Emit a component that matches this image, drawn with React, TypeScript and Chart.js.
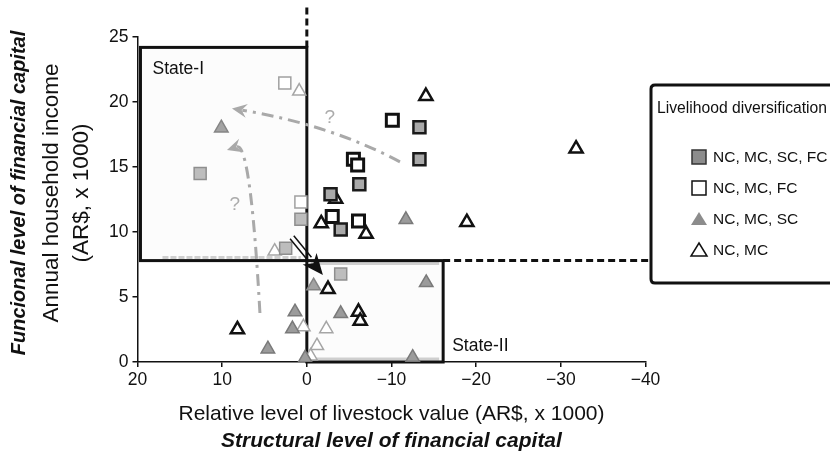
import React, { useEffect, useRef } from 'react';
import { Chart, registerables } from 'chart.js';

Chart.register(...registerables);

// ---------- data ----------
const X_MIN = -40;
const X_MAX = 20;
const X_STEP = 10;
const Y_MIN = 0;
const Y_MAX = 25;
const Y_STEP = 5;

const LEGEND_TITLE = 'Livelihood diversification';
const LEGEND_LABELS = ['NC, MC, SC, FC', 'NC, MC, FC', 'NC, MC, SC', 'NC, MC'];

const X_TITLE = 'Relative level of livestock value (AR$, x 1000)';
const X_SUBTITLE = 'Structural level of financial capital';
const Y_TITLE_1 = 'Annual household income';
const Y_TITLE_2 = '(AR$, x 1000)';
const Y_SUBTITLE = 'Funcional level of financial capital';

// NC, MC, SC, FC (gray squares)
const GRAY_SQUARES = [
  { x: -13.3, y: 18.05 },
  { x: -13.3, y: 15.6 },
  { x: -6.2, y: 13.67 },
  { x: -2.8, y: 12.9 },
  { x: -4.0, y: 10.2 },
];
// NC, MC, FC (white squares)
const WHITE_SQUARES = [
  { x: -10.1, y: 18.6 },
  { x: -5.5, y: 15.6 },
  { x: -6.0, y: 15.15 },
  { x: -3.0, y: 11.2 },
  { x: -6.1, y: 10.85 },
];
// NC, MC, SC (gray triangles)
const GRAY_TRIANGLES = [
  { x: -11.7, y: 10.95 },
  { x: -14.1, y: 6.1 },
  { x: -12.5, y: 0.35 },
  { x: 1.4, y: 3.85 },
  { x: -4.0, y: 3.72 },
  { x: 1.7, y: 2.55 },
  { x: 4.6, y: 1.0 },
  { x: 0.2, y: 0.3 },
];
// NC, MC (white triangles)
const WHITE_TRIANGLES = [
  { x: -14.06, y: 20.45 },
  { x: -31.8, y: 16.4 },
  { x: -18.9, y: 10.75 },
  { x: -1.7, y: 10.65 },
  { x: -7.0, y: 9.85 },
  { x: -2.5, y: 5.6 },
  { x: -6.1, y: 3.85 },
  { x: -6.3, y: 3.15 },
  { x: 8.2, y: 2.5 },
  { x: -3.4, y: 12.55 },
];
// earlier states (faded markers)
const FADED_GRAY_SQUARES = [
  { x: 0.7, y: 10.98 },
  { x: 2.5, y: 8.75 },
  { x: 12.6, y: 14.5 },
  { x: -4.0, y: 6.77 },
];
const FADED_WHITE_SQUARES = [
  { x: 2.6, y: 21.46 },
  { x: 0.7, y: 12.3 },
];
const FADED_GRAY_TRIANGLES = [
  { x: 10.1, y: 18.0 },
  { x: -0.8, y: 5.85 },
];
const FADED_WHITE_TRIANGLES = [
  { x: 0.9, y: 20.83 },
  { x: 3.8, y: 8.52 },
  { x: 0.4, y: 2.7 },
  { x: -2.3, y: 2.55 },
  { x: -1.2, y: 1.25 },
  { x: -0.45, y: 0.45 },
];

// state thresholds (data units)
const THRESH_X = 0;
const THRESH_Y = 7.8;
const STATE1_LEFT = 19.65;
const STATE1_TOP = 24.2;
const STATE2_RIGHT = -16.1;

// trajectory arrows (data units): start, via, end
const ARROW_H = [{ x: -11.0, y: 15.4 }, { x: -1.9, y: 17.85 }, { x: 8.84, y: 19.5 }];
const ARROW_V = [{ x: 5.54, y: 3.77 }, { x: 7.07, y: 13.46 }, { x: 9.43, y: 16.3 }];
const ARROW_MAIN = [{ x: 1.76, y: 9.6 }, { x: -1.9, y: 6.7 }];
const QUESTION_MARKS = [{ x: -2.7, y: 18.75 }, { x: 8.5, y: 12.1 }];

const FONT = '"Liberation Sans", Arial, Helvetica, sans-serif';

const LEGEND_BOX = { left: 651, top: 85, bottom: 283 };

function quadThrough(p0: any, via: any, p2: any) {
  return { x: 2 * via.x - (p0.x + p2.x) / 2, y: 2 * via.y - (p0.y + p2.y) / 2 };
}

const overlay = {
  id: 'overlay',
  beforeDatasetsDraw(chart: any) {
    const ctx = chart.ctx;
    const sx = chart.scales.x;
    const sy = chart.scales.y;
    const X = (v: number) => sx.getPixelForValue(v);
    const Y = (v: number) => sy.getPixelForValue(v);
    ctx.save();
    // faint shading of states
    ctx.fillStyle = '#fcfcfc';
    ctx.fillRect(X(STATE1_LEFT), Y(STATE1_TOP), X(THRESH_X) - X(STATE1_LEFT), Y(THRESH_Y) - Y(STATE1_TOP));
    ctx.fillRect(X(THRESH_X), Y(THRESH_Y), X(STATE2_RIGHT) - X(THRESH_X), Y(0) - Y(THRESH_Y));
    // light gray shadow lines
    ctx.strokeStyle = '#cfcfcf';
    ctx.lineWidth = 3;
    ctx.setLineDash([6, 2]);
    ctx.beginPath();
    ctx.moveTo(X(STATE1_LEFT) + 22, Y(THRESH_Y) - 3);
    ctx.lineTo(X(THRESH_X) - 6, Y(THRESH_Y) - 3);
    ctx.stroke();
    ctx.setLineDash([]);
    ctx.beginPath();
    ctx.moveTo(X(THRESH_X) + 4, Y(THRESH_Y) + 3);
    ctx.lineTo(X(STATE2_RIGHT) - 4, Y(THRESH_Y) + 3);
    ctx.moveTo(X(THRESH_X) + 4, Y(0) - 3);
    ctx.lineTo(X(STATE2_RIGHT) - 4, Y(0) - 3);
    ctx.stroke();
    // state boxes
    ctx.strokeStyle = '#111';
    ctx.lineWidth = 3;
    ctx.strokeRect(X(STATE1_LEFT), Y(STATE1_TOP), X(THRESH_X) - X(STATE1_LEFT), Y(THRESH_Y) - Y(STATE1_TOP));
    ctx.strokeRect(X(THRESH_X), Y(THRESH_Y), X(STATE2_RIGHT) - X(THRESH_X), Y(0) - Y(THRESH_Y));
    // dashed threshold extensions
    ctx.setLineDash([7, 4]);
    ctx.beginPath();
    ctx.moveTo(X(STATE2_RIGHT), Y(THRESH_Y));
    ctx.lineTo(LEGEND_BOX.left, Y(THRESH_Y));
    ctx.stroke();
    ctx.beginPath();
    ctx.moveTo(X(THRESH_X), Y(STATE1_TOP));
    ctx.lineTo(X(THRESH_X), 4);
    ctx.stroke();
    ctx.restore();
  },
  afterDatasetsDraw(chart: any) {
    const ctx = chart.ctx;
    const sx = chart.scales.x;
    const sy = chart.scales.y;
    const P = (p: any) => ({ x: sx.getPixelForValue(p.x), y: sy.getPixelForValue(p.y) });
    ctx.save();
    // dash-dot curved arrows
    const drawCurve = (pts: any[]) => {
      const a = P(pts[0]);
      const v = P(pts[1]);
      const b = P(pts[2]);
      const c = quadThrough(a, v, b);
      const ang = Math.atan2(b.y - c.y, b.x - c.x);
      const hl = 15;
      const bx = b.x - Math.cos(ang) * hl * 0.7;
      const by = b.y - Math.sin(ang) * hl * 0.7;
      ctx.strokeStyle = '#a9a9a9';
      ctx.lineWidth = 3;
      ctx.setLineDash([12, 6, 3, 6]);
      ctx.beginPath();
      ctx.moveTo(a.x, a.y);
      ctx.quadraticCurveTo(c.x, c.y, bx, by);
      ctx.stroke();
      ctx.setLineDash([]);
      ctx.fillStyle = '#a9a9a9';
      ctx.beginPath();
      ctx.moveTo(b.x, b.y);
      ctx.lineTo(b.x - Math.cos(ang) * hl + Math.sin(ang) * 7, b.y - Math.sin(ang) * hl - Math.cos(ang) * 7);
      ctx.lineTo(b.x - Math.cos(ang) * hl * 0.65, b.y - Math.sin(ang) * hl * 0.65);
      ctx.lineTo(b.x - Math.cos(ang) * hl - Math.sin(ang) * 7, b.y - Math.sin(ang) * hl + Math.cos(ang) * 7);
      ctx.closePath();
      ctx.fill();
    };
    drawCurve(ARROW_H);
    drawCurve(ARROW_V);

    // question marks
    ctx.fillStyle = '#ababab';
    ctx.font = `19px ${FONT}`;
    ctx.textAlign = 'center';
    ctx.textBaseline = 'middle';
    QUESTION_MARKS.forEach((q) => {
      const p = P(q);
      ctx.fillText('?', p.x, p.y);
    });

    // main double-line arrow
    const s = P(ARROW_MAIN[0]);
    const e = P(ARROW_MAIN[1]);
    const ang = Math.atan2(e.y - s.y, e.x - s.x);
    const nx = -Math.sin(ang);
    const ny = Math.cos(ang);
    const hl = 21;
    const baseX = e.x - Math.cos(ang) * hl;
    const baseY = e.y - Math.sin(ang) * hl;
    ctx.strokeStyle = '#111';
    ctx.lineWidth = 1.5;
    ctx.beginPath();
    ctx.moveTo(s.x + nx * 2.4, s.y + ny * 2.4);
    ctx.lineTo(baseX + nx * 2.4, baseY + ny * 2.4);
    ctx.moveTo(s.x - nx * 2.4, s.y - ny * 2.4);
    ctx.lineTo(baseX - nx * 2.4, baseY - ny * 2.4);
    ctx.stroke();
    ctx.fillStyle = '#111';
    ctx.beginPath();
    ctx.moveTo(e.x, e.y);
    ctx.lineTo(baseX + nx * 9, baseY + ny * 9);
    ctx.lineTo(baseX + Math.cos(ang) * 6, baseY + Math.sin(ang) * 6);
    ctx.lineTo(baseX - nx * 9, baseY - ny * 9);
    ctx.closePath();
    ctx.fill();

    // state labels
    ctx.fillStyle = '#111';
    ctx.font = `17.5px ${FONT}`;
    ctx.textAlign = 'left';
    ctx.textBaseline = 'middle';
    ctx.fillText('State-I', sx.getPixelForValue(STATE1_LEFT) + 12, sy.getPixelForValue(STATE1_TOP) + 22);
    ctx.fillText('State-II', sx.getPixelForValue(STATE2_RIGHT) + 9, sy.getPixelForValue(0) - 16);

    // legend box
    const L = LEGEND_BOX;
    ctx.strokeStyle = '#111';
    ctx.lineWidth = 3;
    ctx.beginPath();
    ctx.moveTo(840, L.top);
    ctx.lineTo(L.left + 4, L.top);
    ctx.quadraticCurveTo(L.left, L.top, L.left, L.top + 4);
    ctx.lineTo(L.left, L.bottom - 4);
    ctx.quadraticCurveTo(L.left, L.bottom, L.left + 4, L.bottom);
    ctx.lineTo(840, L.bottom);
    ctx.stroke();
    ctx.fillStyle = '#111';
    ctx.font = `15.7px ${FONT}`;
    ctx.fillText(LEGEND_TITLE, L.left + 6, L.top + 24);
    const mx = L.left + 48;
    const tx = L.left + 62;
    const rowY = [157, 188, 219, 250];
    ctx.font = `15.5px ${FONT}`;
    LEGEND_LABELS.forEach((lab, i) => {
      const yy = rowY[i];
      ctx.lineWidth = 1.5;
      if (i === 0) {
        ctx.fillStyle = '#8c8c8c';
        ctx.strokeStyle = '#333';
        ctx.fillRect(mx - 7, yy - 7, 14, 14);
        ctx.strokeRect(mx - 7, yy - 7, 14, 14);
      } else if (i === 1) {
        ctx.fillStyle = '#fff';
        ctx.strokeStyle = '#111';
        ctx.fillRect(mx - 7, yy - 7, 14, 14);
        ctx.strokeRect(mx - 7, yy - 7, 14, 14);
      } else {
        ctx.beginPath();
        ctx.moveTo(mx, yy - 7);
        ctx.lineTo(mx + 8, yy + 6);
        ctx.lineTo(mx - 8, yy + 6);
        ctx.closePath();
        if (i === 2) {
          ctx.fillStyle = '#8c8c8c';
          ctx.fill();
        } else {
          ctx.fillStyle = '#fff';
          ctx.fill();
          ctx.strokeStyle = '#111';
          ctx.stroke();
        }
      }
      ctx.fillStyle = '#111';
      ctx.fillText(lab, tx, yy + 1);
    });
    ctx.restore();
  },
  afterDraw(chart: any) {
    const ctx = chart.ctx;
    const area = chart.chartArea;
    const cx = (area.left + area.right) / 2;
    ctx.save();
    ctx.fillStyle = '#111';
    ctx.textAlign = 'center';
    ctx.textBaseline = 'middle';
    ctx.font = `21px ${FONT}`;
    ctx.fillText(X_TITLE, cx, 414);
    ctx.font = `italic bold 21px ${FONT}`;
    ctx.fillText(X_SUBTITLE, cx, 441);
    const cy = 193;
    ctx.save();
    ctx.translate(52, cy);
    ctx.rotate(-Math.PI / 2);
    ctx.font = `22.5px ${FONT}`;
    ctx.fillText(Y_TITLE_1, 0, 0);
    ctx.restore();
    ctx.save();
    ctx.translate(82, cy);
    ctx.rotate(-Math.PI / 2);
    ctx.font = `22.5px ${FONT}`;
    ctx.fillText(Y_TITLE_2, 0, 0);
    ctx.restore();
    ctx.save();
    ctx.translate(19, cy);
    ctx.rotate(-Math.PI / 2);
    ctx.font = `italic bold 20px ${FONT}`;
    ctx.fillText(Y_SUBTITLE, 0, 0);
    ctx.restore();
    ctx.restore();
  },
};

function ds(label: string, data: any[], style: string, bg: string, border: string, bw: number, r: number) {
  return {
    label,
    data,
    pointStyle: style,
    backgroundColor: bg,
    borderColor: border,
    borderWidth: bw,
    pointRadius: r,
    pointHoverRadius: r,
    showLine: false,
  };
}

export default function App() {
  const ref = useRef<HTMLCanvasElement | null>(null);
  useEffect(() => {
    if (!ref.current) return;
    const chart = new Chart(ref.current, {
      type: 'scatter',
      data: {
        datasets: [
          ds(LEGEND_LABELS[0], GRAY_SQUARES, 'rect', '#a9a9a9', '#1a1a1a', 2.5, 8.5),
          ds(LEGEND_LABELS[1], WHITE_SQUARES, 'rect', '#ffffff', '#111111', 3, 8.5),
          ds(LEGEND_LABELS[3], WHITE_TRIANGLES, 'triangle', '#ffffff', '#111111', 2.5, 7.6),
          ds(LEGEND_LABELS[2], GRAY_TRIANGLES, 'triangle', '#9b9b9b', '#7a7a7a', 1.5, 7.8),
          ds('faded gray squares', FADED_GRAY_SQUARES, 'rect', '#bdbdbd', '#8e8e8e', 1.5, 8.5),
          ds('faded white squares', FADED_WHITE_SQUARES, 'rect', '#ffffff', '#a0a0a0', 1.5, 8.5),
          ds('faded gray triangles', FADED_GRAY_TRIANGLES, 'triangle', '#a3a3a3', '#858585', 1.5, 7.8),
          ds('faded white triangles', FADED_WHITE_TRIANGLES, 'triangle', '#ffffff', '#a6a6a6', 1.5, 7.6),
        ],
      },
      options: {
        responsive: false,
        animation: false,
        events: [],
        layout: { padding: { left: 0, right: 184.5, top: 37, bottom: 0 } },
        plugins: {
          legend: { display: false },
          tooltip: { enabled: false },
          title: { display: false },
        },
        scales: {
          x: {
            type: 'linear',
            reverse: true,
            min: X_MIN,
            max: X_MAX,
            afterFit: (s: any) => {
              s.height = 105;
            },
            ticks: {
              stepSize: X_STEP,
              color: '#111',
              font: { family: FONT, size: 17.5 },
              padding: 3,
              maxRotation: 0,
              callback: (v: any) => (Number(v) < 0 ? '\u2212' + Math.abs(Number(v)) : String(v)),
            },
            grid: { display: true, drawOnChartArea: false, drawTicks: true, tickLength: 5, color: '#111', lineWidth: 1.5 },
            border: { display: true, color: '#111', width: 1.5 },
          },
          y: {
            type: 'linear',
            min: Y_MIN,
            max: Y_MAX,
            afterFit: (s: any) => {
              s.width = 137.5;
            },
            ticks: {
              stepSize: Y_STEP,
              color: '#111',
              font: { family: FONT, size: 17.5 },
              padding: 4,
            },
            grid: { display: true, drawOnChartArea: false, drawTicks: true, tickLength: 5, color: '#111', lineWidth: 1.5 },
            border: { display: true, color: '#111', width: 1.5 },
          },
        },
      } as any,
      plugins: [overlay],
    });
    return () => chart.destroy();
  }, []);
  return (
    <div style={{ position: 'absolute', left: 0, top: 0, width: 830, height: 467, background: '#fff' }}>
      <canvas ref={ref} width={830} height={467} style={{ display: 'block' }} />
    </div>
  );
}
